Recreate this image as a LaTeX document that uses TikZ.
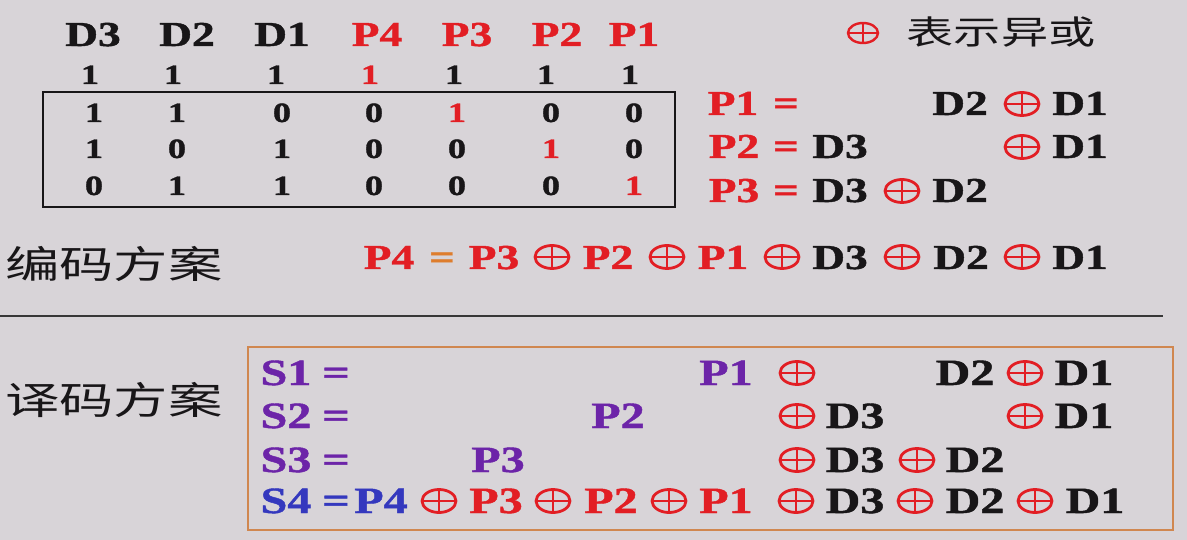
\documentclass[tikz,border=0pt]{standalone}
\usepackage{fontspec}
\usetikzlibrary{shapes.geometric}
\newfontfamily\tnr{Liberation Serif}[FakeStretch=1.3, BoldFeatures={FakeBold=1.2}]
\newfontfamily\cjk{Noto Sans CJK SC}[FakeStretch=1.43]
\definecolor{bg}{RGB}{216,212,216}
\definecolor{rd}{RGB}{226,30,36}
\definecolor{pu}{RGB}{108,36,168}
\definecolor{bl}{RGB}{52,56,190}
\definecolor{og}{RGB}{222,125,45}
\definecolor{bk}{RGB}{24,22,24}
\definecolor{obox}{RGB}{208,135,80}
\definecolor{ln}{RGB}{55,55,55}
\newcommand\tok[5]{\node[#2] (#1) at (#3,#4) {#5};}
\newcommand\xor[3]{\node[xo] (#1) at (#2,#3) {};}
\begin{document}
\begin{tikzpicture}[x=1pt,y=-1pt,
  tx/.style={anchor=base, inner sep=0pt, text=bk, font=\tnr\bfseries\fontsize{35}{37}\selectfont},
  dg/.style={tx, font=\tnr\bfseries\fontsize{28}{30}\selectfont},
  sx/.style={tx, font=\tnr\bfseries\fontsize{37}{39}\selectfont},
  cred/.style={text=rd}, cpur/.style={text=pu}, cblu/.style={text=bl}, corg/.style={text=og},
  cjkt/.style={inner sep=0pt, text=bk, font=\cjk\fontsize{38}{40}\selectfont},
  xo/.style={ellipse, draw=rd, line width=2.8pt, minimum width=34pt, minimum height=23pt, inner sep=0pt,
    path picture={\draw[rd, line width=2.6pt] (path picture bounding box.north) -- (path picture bounding box.south)
      (path picture bounding box.west) -- (path picture bounding box.east);}},
  xos/.style={xo, minimum width=30pt, minimum height=20pt, line width=2.4pt}]
\fill[bg] (0,0) rectangle (1187,540);
\useasboundingbox (0,0) rectangle (1187,540);
% header
\tok{h1}{tx}{93}{46}{D3}
\tok{h2}{tx}{187}{46}{D2}
\tok{h3}{tx}{282}{46}{D1}
\tok{h4}{tx,cred}{377}{46}{P4}
\tok{h5}{tx,cred}{467}{46}{P3}
\tok{h6}{tx,cred}{557}{46}{P2}
\tok{h7}{tx,cred}{634}{46}{P1}
% row 0
\tok{a1}{dg}{90}{84}{1}
\tok{a2}{dg}{173}{84}{1}
\tok{a3}{dg}{276}{84}{1}
\tok{a4}{dg,cred}{370}{84}{1}
\tok{a5}{dg}{454}{84}{1}
\tok{a6}{dg}{546}{84}{1}
\tok{a7}{dg}{630}{84}{1}
% matrix box
\draw[bk, line width=1.2pt] (43,92) rectangle (675,207);
\tok{b1}{dg}{94}{122}{1}
\tok{b2}{dg}{177}{122}{1}
\tok{b3}{dg}{282}{122}{0}
\tok{b4}{dg}{374}{122}{0}
\tok{b5}{dg,cred}{457}{122}{1}
\tok{b6}{dg}{551}{122}{0}
\tok{b7}{dg}{634}{122}{0}
\tok{c1}{dg}{94}{158}{1}
\tok{c2}{dg}{177}{158}{0}
\tok{c3}{dg}{282}{158}{1}
\tok{c4}{dg}{374}{158}{0}
\tok{c5}{dg}{457}{158}{0}
\tok{c6}{dg,cred}{551}{158}{1}
\tok{c7}{dg}{634}{158}{0}
\tok{d1}{dg}{94}{195}{0}
\tok{d2}{dg}{177}{195}{1}
\tok{d3}{dg}{282}{195}{1}
\tok{d4}{dg}{374}{195}{0}
\tok{d5}{dg}{457}{195}{0}
\tok{d6}{dg}{551}{195}{0}
\tok{d7}{dg,cred}{634}{195}{1}
% legend
\node[xos] (lgx) at (863,33) {};
\node[cjkt, font=\cjk\fontsize{33}{35}\selectfont] (lgt) at (1001,32) {表示异或};
% P1..P3 equations
\tok{e1p}{tx,cred}{733}{115}{P1}
\tok{e1e}{tx,cred}{786}{115}{=}
\tok{e1a}{tx}{960}{115}{D2}
\xor{e1x}{1022}{104}
\tok{e1b}{tx}{1080}{115}{D1}
\tok{e2p}{tx,cred}{734}{158}{P2}
\tok{e2e}{tx,cred}{786}{158}{=}
\tok{e2a}{tx}{840}{158}{D3}
\xor{e2x}{1022}{147}
\tok{e2b}{tx}{1080}{158}{D1}
\tok{e3p}{tx,cred}{734}{202}{P3}
\tok{e3e}{tx,cred}{786}{202}{=}
\tok{e3a}{tx}{840}{202}{D3}
\xor{e3x}{902}{191}
\tok{e3b}{tx}{960}{202}{D2}
% encoding
\node[cjkt] (enc) at (114,264) {编码方案};
\tok{f1}{tx,cred}{389}{269}{P4}
\tok{f2}{tx,corg}{442}{269}{=}
\tok{f3}{tx,cred}{494}{269}{P3}
\xor{fx1}{552}{257}
\tok{f4}{tx,cred}{608}{269}{P2}
\xor{fx2}{667}{257}
\tok{f5}{tx,cred}{723}{269}{P1}
\xor{fx3}{782}{257}
\tok{f6}{tx}{840}{269}{D3}
\xor{fx4}{902}{257}
\tok{f7}{tx}{961}{269}{D2}
\xor{fx5}{1022}{257}
\tok{f8}{tx}{1080}{269}{D1}
% separator
\coordinate (sepL) at (0,316);
\coordinate (sepR) at (1163,316);
\draw[ln, line width=1.3pt] (sepL) -- (sepR);
% decoding
\node[cjkt] (dec) at (114,400) {译码方案};
\draw[obox, line width=1.5pt] (248,347) rectangle (1173,530);
\tok{s1a}{sx,cpur}{286}{385}{S1}
\tok{s1e}{sx,cpur}{336}{385}{=}
\tok{s1p}{sx,cpur}{726}{385}{P1}
\xor{s1x1}{797}{373}
\tok{s1b}{sx}{965}{385}{D2}
\xor{s1x2}{1025}{373}
\tok{s1c}{sx}{1084}{385}{D1}
\tok{s2a}{sx,cpur}{286}{428}{S2}
\tok{s2e}{sx,cpur}{336}{428}{=}
\tok{s2p}{sx,cpur}{618}{428}{P2}
\xor{s2x1}{797}{416}
\tok{s2b}{sx}{855}{428}{D3}
\xor{s2x2}{1025}{416}
\tok{s2c}{sx}{1084}{428}{D1}
\tok{s3a}{sx,cpur}{286}{472}{S3}
\tok{s3e}{sx,cpur}{336}{472}{=}
\tok{s3p}{sx,cpur}{498}{472}{P3}
\xor{s3x1}{797}{460}
\tok{s3b}{sx}{855}{472}{D3}
\xor{s3x2}{917}{460}
\tok{s3c}{sx}{975}{472}{D2}
\tok{s4a}{sx,cblu}{286}{513}{S4}
\tok{s4e}{sx,cblu}{336}{513}{=}
\tok{s4p}{sx,cblu}{381}{513}{P4}
\xor{s4x1}{439}{501}
\tok{s4q}{sx,cred}{496}{513}{P3}
\xor{s4x2}{553}{501}
\tok{s4r}{sx,cred}{611}{513}{P2}
\xor{s4x3}{669}{501}
\tok{s4s}{sx,cred}{726}{513}{P1}
\xor{s4x4}{796}{501}
\tok{s4b}{sx}{855}{513}{D3}
\xor{s4x5}{915}{501}
\tok{s4c}{sx}{975}{513}{D2}
\xor{s4x6}{1035}{501}
\tok{s4d}{sx}{1095}{513}{D1}
\end{tikzpicture}
\end{document}
